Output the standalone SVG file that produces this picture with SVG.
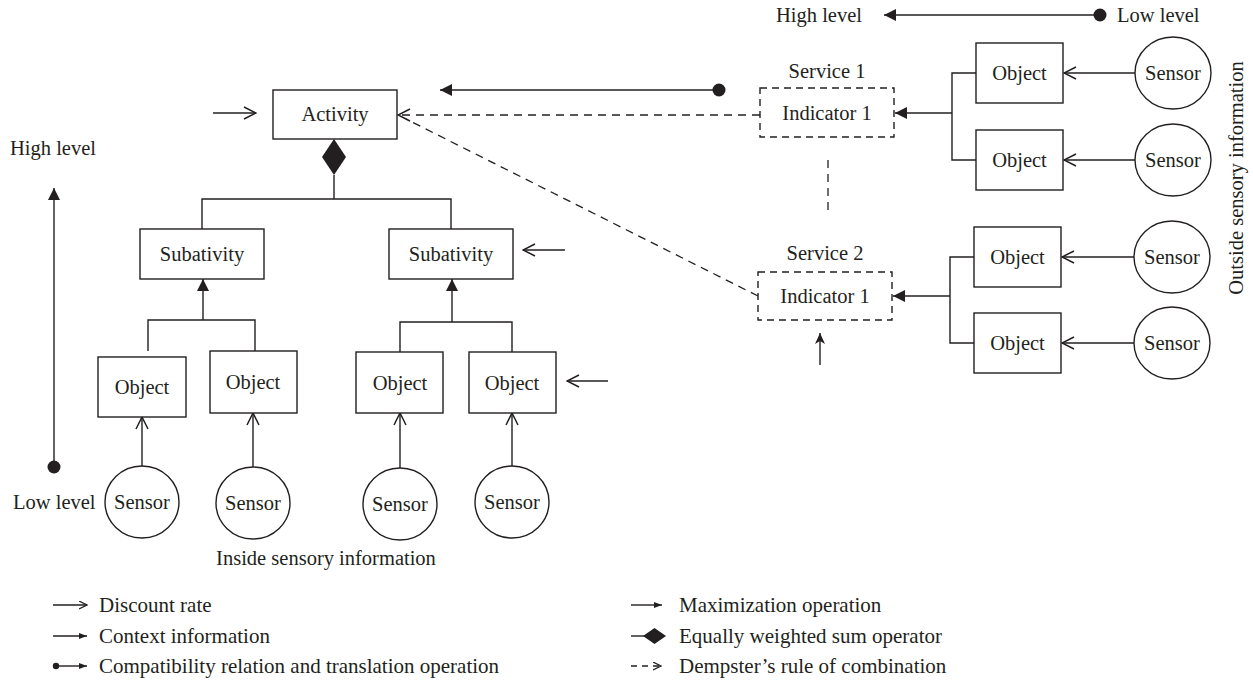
<svg xmlns="http://www.w3.org/2000/svg" width="1253" height="682" viewBox="0 0 1253 682">
<style>
  .t { font-family: "Liberation Serif", "Times New Roman", serif; font-size: 20.5px; fill: #231f20; }
  .m { text-anchor: middle; }
  .lg { font-size: 21px; }
  .box { fill: #fff; stroke: #231f20; stroke-width: 1.4; }
  .dbox { fill: #fff; stroke: #231f20; stroke-width: 1.4; stroke-dasharray: 7 5; }
  .ln { fill: none; stroke: #231f20; stroke-width: 1.4; }
  .dl { fill: none; stroke: #231f20; stroke-width: 1.3; stroke-dasharray: 8 6; }
  .dot { fill: #231f20; }
</style>
<defs>
  <marker id="open" viewBox="0 0 14 14" refX="13" refY="7" markerWidth="14" markerHeight="14" markerUnits="userSpaceOnUse" orient="auto">
    <path d="M1,1 L13,7 L1,13" fill="none" stroke="#231f20" stroke-width="1.5"/>
  </marker>
  <marker id="fill" viewBox="0 0 12 12" refX="12" refY="6" markerWidth="12" markerHeight="12" markerUnits="userSpaceOnUse" orient="auto">
    <path d="M0,0 L12,6 L0,12 Z" fill="#231f20"/>
  </marker>
  <marker id="stealth" viewBox="0 0 11 10" refX="11" refY="5" markerWidth="11" markerHeight="10" markerUnits="userSpaceOnUse" orient="auto">
    <path d="M0,0 L11,5 L0,10 L3,5 Z" fill="#231f20"/>
  </marker>
  <marker id="small" viewBox="0 0 8 6" refX="8" refY="3" markerWidth="8" markerHeight="6" markerUnits="userSpaceOnUse" orient="auto">
    <path d="M0,0 L8,3 L0,6 Z" fill="#231f20"/>
  </marker>
  <marker id="smallopen" viewBox="0 0 9 9" refX="8.5" refY="4.5" markerWidth="9" markerHeight="9" markerUnits="userSpaceOnUse" orient="auto">
    <path d="M0.5,0.5 L8.5,4.5 L0.5,8.5" fill="none" stroke="#231f20" stroke-width="1.2"/>
  </marker>
</defs>

<g id="connectors">
  <!-- level arrows -->
  <line class="ln" x1="1100" y1="15" x2="884" y2="15" marker-end="url(#fill)"/>
  <circle class="dot" cx="1100" cy="15" r="6.5"/>
  <line class="ln" x1="54" y1="467" x2="54" y2="188" marker-end="url(#fill)"/>
  <circle class="dot" cx="54" cy="467" r="6.5"/>
  <line class="ln" x1="719" y1="90" x2="440" y2="90" marker-end="url(#fill)"/>
  <circle class="dot" cx="719" cy="90" r="6.5"/>

  <!-- discount arrows -->
  <line class="ln" x1="213" y1="113" x2="256" y2="113" marker-end="url(#open)"/>
  <line class="ln" x1="565" y1="250" x2="523" y2="250" marker-end="url(#open)"/>
  <line class="ln" x1="608" y1="381" x2="567" y2="381" marker-end="url(#open)"/>
  <line class="ln" x1="820" y1="365" x2="820" y2="333" marker-end="url(#stealth)"/>

  <!-- dempster dashed -->
  <line class="dl" x1="760" y1="115" x2="398" y2="115" marker-end="url(#open)"/>
  <line class="dl" x1="758" y1="296" x2="406" y2="119"/>
  <line class="dl" x1="828" y1="160" x2="828" y2="210"/>

  <!-- activity tree -->
  <polygon points="334,139 346,157 334,175 322,157" fill="#231f20"/>
  <polyline class="ln" points="334,175 334,199"/>
  <polyline class="ln" points="202,229 202,199 451,199 451,229"/>

  <!-- left subactivity tree -->
  <polyline class="ln" points="148,351 148,320 255,320 255,351"/>
  <line class="ln" x1="203" y1="320" x2="203" y2="279" marker-end="url(#fill)"/>
  <!-- right subactivity tree -->
  <polyline class="ln" points="400,352 400,322 512,322 512,352"/>
  <line class="ln" x1="452" y1="322" x2="452" y2="279" marker-end="url(#fill)"/>

  <!-- sensors to objects inside -->
  <line class="ln" x1="142" y1="466" x2="142" y2="417" marker-end="url(#open)"/>
  <line class="ln" x1="253" y1="467" x2="253" y2="413" marker-end="url(#open)"/>
  <line class="ln" x1="400" y1="468" x2="400" y2="413" marker-end="url(#open)"/>
  <line class="ln" x1="512" y1="466" x2="512" y2="413" marker-end="url(#open)"/>

  <!-- outside service 1 -->
  <polyline class="ln" points="976,73 952,73 952,160 976,160"/>
  <line class="ln" x1="952" y1="113" x2="895" y2="113" marker-end="url(#fill)"/>
  <line class="ln" x1="1135" y1="73" x2="1064" y2="73" marker-end="url(#open)"/>
  <line class="ln" x1="1135" y1="160" x2="1064" y2="160" marker-end="url(#open)"/>
  <!-- outside service 2 -->
  <polyline class="ln" points="974,257 950,257 950,343 974,343"/>
  <line class="ln" x1="950" y1="296" x2="893" y2="296" marker-end="url(#fill)"/>
  <line class="ln" x1="1134" y1="257" x2="1062" y2="257" marker-end="url(#open)"/>
  <line class="ln" x1="1134" y1="343" x2="1062" y2="343" marker-end="url(#open)"/>
</g>

<g id="activity"><rect class="box" x="273" y="90" width="124" height="49"/><text class="t m" x="335" y="121">Activity</text></g>
<g id="subactivity1"><rect class="box" x="140" y="229" width="124" height="50"/><text class="t m" x="202" y="261">Subativity</text></g>
<g id="subactivity2"><rect class="box" x="389" y="229" width="124" height="50"/><text class="t m" x="451" y="261">Subativity</text></g>

<g id="object1"><rect class="box" x="98" y="357" width="88" height="60"/><text class="t m" x="142" y="394">Object</text></g>
<g id="object2"><rect class="box" x="210" y="351" width="87" height="62"/><text class="t m" x="253" y="389">Object</text></g>
<g id="object3"><rect class="box" x="356" y="352" width="87" height="61"/><text class="t m" x="400" y="390">Object</text></g>
<g id="object4"><rect class="box" x="469" y="352" width="87" height="61"/><text class="t m" x="512" y="390">Object</text></g>

<g id="sensor1"><ellipse class="box" cx="142" cy="502" rx="37" ry="36"/><text class="t m" x="142" y="509">Sensor</text></g>
<g id="sensor2"><ellipse class="box" cx="253" cy="503" rx="37" ry="36"/><text class="t m" x="253" y="510">Sensor</text></g>
<g id="sensor3"><ellipse class="box" cx="400" cy="504" rx="37" ry="36"/><text class="t m" x="400" y="511">Sensor</text></g>
<g id="sensor4"><ellipse class="box" cx="512" cy="502" rx="37" ry="36"/><text class="t m" x="512" y="509">Sensor</text></g>

<g id="service1"><text class="t m" x="827" y="78">Service 1</text><rect class="dbox" x="760" y="88" width="134" height="49"/><text class="t m" x="827" y="120">Indicator 1</text></g>
<g id="service2"><text class="t m" x="825" y="260">Service 2</text><rect class="dbox" x="758" y="272" width="134" height="48"/><text class="t m" x="825" y="303">Indicator 1</text></g>

<g id="object5"><rect class="box" x="976" y="43" width="87" height="60"/><text class="t m" x="1019.5" y="80">Object</text></g>
<g id="object6"><rect class="box" x="976" y="130" width="87" height="60"/><text class="t m" x="1019.5" y="167">Object</text></g>
<g id="object7"><rect class="box" x="974" y="227" width="87" height="60"/><text class="t m" x="1017.5" y="264">Object</text></g>
<g id="object8"><rect class="box" x="974" y="313" width="87" height="60"/><text class="t m" x="1017.5" y="350">Object</text></g>

<g id="sensor5"><ellipse class="box" cx="1173" cy="73" rx="38" ry="36"/><text class="t m" x="1173" y="80">Sensor</text></g>
<g id="sensor6"><ellipse class="box" cx="1173" cy="160" rx="38" ry="36"/><text class="t m" x="1173" y="167">Sensor</text></g>
<g id="sensor7"><ellipse class="box" cx="1172" cy="257" rx="38" ry="36"/><text class="t m" x="1172" y="264">Sensor</text></g>
<g id="sensor8"><ellipse class="box" cx="1172" cy="343" rx="38" ry="36"/><text class="t m" x="1172" y="350">Sensor</text></g>

<g id="labels">
  <text class="t" x="10" y="155">High level</text>
  <text class="t" x="13" y="509">Low level</text>
  <text class="t" x="776" y="22">High level</text>
  <text class="t" x="1117" y="22">Low level</text>
  <text class="t m" x="326" y="565">Inside sensory information</text>
  <text class="t m" transform="translate(1243,178) rotate(-90)">Outside sensory information</text>
</g>

<g id="legend">
  <line class="ln" x1="53" y1="605" x2="87" y2="605" marker-end="url(#smallopen)"/>
  <text class="t lg" x="99" y="612">Discount rate</text>
  <line class="ln" x1="53" y1="636" x2="87" y2="636" marker-end="url(#small)"/>
  <text class="t lg" x="99" y="643">Context information</text>
  <circle class="dot" cx="56" cy="666" r="3.2"/>
  <line class="ln" x1="56" y1="666" x2="87" y2="666" marker-end="url(#small)"/>
  <text class="t lg" x="99" y="673">Compatibility relation and translation operation</text>

  <line class="ln" x1="631" y1="605" x2="662" y2="605" marker-end="url(#small)"/>
  <text class="t lg" x="679" y="612">Maximization operation</text>
  <line class="ln" x1="631" y1="636" x2="645" y2="636"/>
  <polygon points="643,636 654.5,628 666,636 654.5,644" fill="#231f20"/>
  <text class="t lg" x="679" y="643">Equally weighted sum operator</text>
  <line class="dl" x1="631" y1="666" x2="661" y2="666" style="stroke-dasharray:6 5" marker-end="url(#smallopen)"/>
  <text class="t lg" x="679" y="673">Dempster’s rule of combination</text>
</g>
</svg>
